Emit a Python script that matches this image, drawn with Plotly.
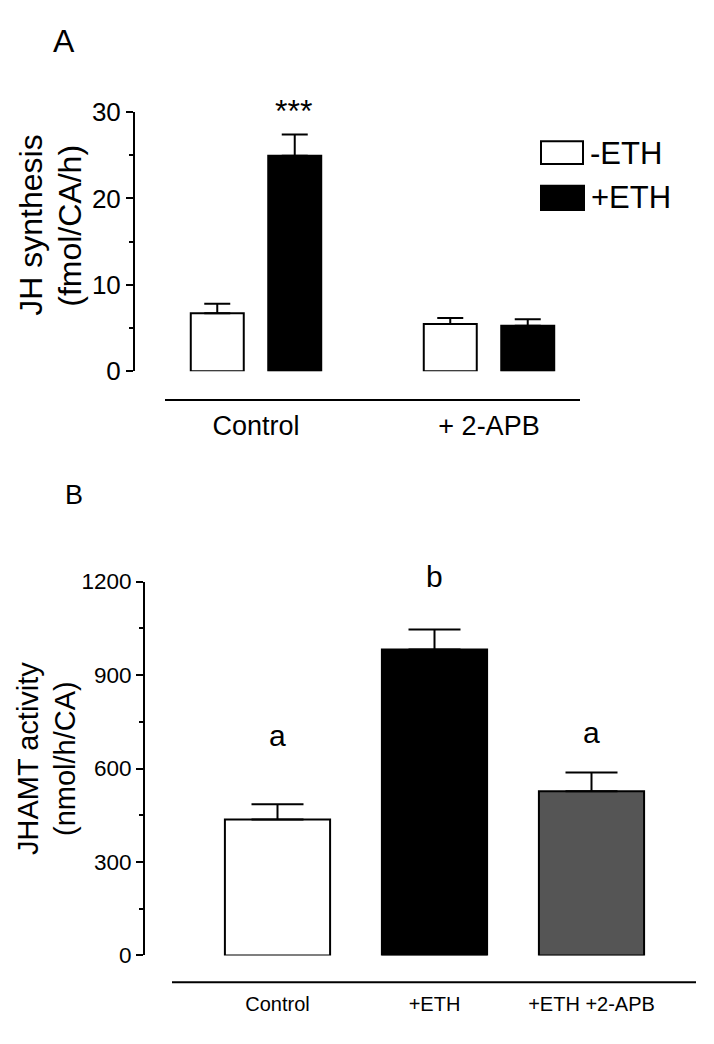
import plotly.graph_objects as go

# ---------------- data ----------------
groups_a = ["Control", "+ 2-APB"]
minus_eth = [6.7, 5.45]
minus_eth_err = [1.1, 0.7]
plus_eth = [24.95, 5.25]
plus_eth_err = [2.45, 0.75]

cats_b = ["Control", "+ETH", "+ETH +2-APB"]
jhamt = [436, 982, 527]
jhamt_err = [49, 64, 60]
letters_b = ["a", "b", "a"]
colors_b = ["white", "black", "#555555"]

yticks_a = [0, 10, 20, 30]
yticks_b = [0, 300, 600, 900, 1200]

W, H = 714, 1044
FONT = "Liberation Sans, Arial, Helvetica, sans-serif"


def px(x):
    return x / W


def py(y):
    return 1 - y / H


fig = go.Figure()

fig.add_trace(go.Bar(
    x=groups_a, y=minus_eth, name="-ETH",
    marker=dict(color="white", line=dict(color="black", width=2)),
    error_y=dict(type="data", array=minus_eth_err, arrayminus=[0] * len(minus_eth),
                 symmetric=False, color="black", thickness=2, width=13),
    xaxis="x", yaxis="y", showlegend=False,
))
fig.add_trace(go.Bar(
    x=groups_a, y=plus_eth, name="+ETH",
    marker=dict(color="black", line=dict(color="black", width=2)),
    error_y=dict(type="data", array=plus_eth_err, arrayminus=[0] * len(plus_eth),
                 symmetric=False, color="black", thickness=2, width=13),
    xaxis="x", yaxis="y", showlegend=False,
))
fig.add_trace(go.Bar(
    x=cats_b, y=jhamt, width=0.67,
    marker=dict(color=colors_b, line=dict(color="black", width=2)),
    error_y=dict(type="data", array=jhamt_err, arrayminus=[0] * len(jhamt),
                 symmetric=False, color="black", thickness=2, width=26),
    xaxis="x2", yaxis="y2", showlegend=False,
))

# axis geometry (pixels)
a_left, a_right, a_top, a_bot = 135, 600, 100, 366.7
a_c0, a_step = 256, 233
b_left, b_right, b_top, b_bot = 145, 700, 583.3, 968.3
b_c0, b_step = 277.5, 157

axis_common = dict(showgrid=False, zeroline=False)

fig.update_layout(
    width=W, height=H,
    margin=dict(l=0, r=0, t=0, b=0),
    paper_bgcolor="white", plot_bgcolor="white",
    barmode="group", bargap=0.335, bargroupgap=0.316,
    font=dict(family=FONT, color="black"),
    xaxis=dict(
        domain=[px(a_left), px(a_right)], anchor="y", type="category",
        range=[(a_left - a_c0) / a_step, (a_right - a_c0) / a_step],
        showline=False, ticks="", tickfont=dict(size=27),
        ticklabelstandoff=36, **axis_common,
    ),
    yaxis=dict(
        domain=[py(a_bot), py(a_top)], anchor="x", range=[0, 30],
        tickvals=yticks_a, ticks="outside", ticklen=7, tickwidth=2,
        tickcolor="black", showline=True, linecolor="black", linewidth=2,
        tickfont=dict(size=26),
        minor=dict(dtick=5, ticks="outside", ticklen=4, tickwidth=2, tickcolor="black"),
        **axis_common,
    ),
    xaxis2=dict(
        domain=[px(b_left), px(b_right)], anchor="y2", type="category",
        range=[(b_left - b_c0) / b_step, (b_right - b_c0) / b_step],
        showline=False, ticks="", tickfont=dict(size=20),
        ticklabelstandoff=35, **axis_common,
    ),
    yaxis2=dict(
        domain=[py(b_bot), py(b_top)], anchor="x2", range=[0, 1200],
        tickvals=yticks_b, ticks="outside", ticklen=7, tickwidth=2,
        tickcolor="black", showline=True, linecolor="black", linewidth=2,
        tickfont=dict(size=22.5),
        minor=dict(dtick=150, ticks="outside", ticklen=4, tickwidth=2, tickcolor="black"),
        **axis_common,
    ),
)

shapes = [
    # group separator lines
    dict(type="line", xref="paper", yref="paper", x0=px(165), x1=px(580),
         y0=py(396.5), y1=py(396.5), line=dict(color="black", width=2)),
    dict(type="line", xref="paper", yref="paper", x0=px(172), x1=px(696),
         y0=py(995.8), y1=py(995.8), line=dict(color="black", width=2)),
    # legend keys
    dict(type="rect", xref="paper", yref="paper", x0=px(541), x1=px(583),
         y0=py(153.3), y1=py(130), fillcolor="white", line=dict(color="black", width=2)),
    dict(type="rect", xref="paper", yref="paper", x0=px(541), x1=px(584),
         y0=py(200.7), y1=py(175.7), fillcolor="black", line=dict(color="black", width=2)),
]
fig.update_layout(shapes=shapes)

ann = [
    dict(text="A", x=px(64), y=py(26.5), font=dict(size=32)),
    dict(text="B", x=px(74), y=py(494), font=dict(size=27)),
    dict(text="JH synthesis", x=px(31), y=py(217), textangle=-90, font=dict(size=32)),
    dict(text="(fmol/CA/h)", x=px(70), y=py(217), textangle=-90, font=dict(size=32)),
    dict(text="JHAMT activity", x=px(28), y=py(766), textangle=-90, font=dict(size=29)),
    dict(text="(nmol/h/CA)", x=px(65), y=py(766), textangle=-90, font=dict(size=29)),
    dict(text="***", x=px(293.3), y=py(99), font=dict(size=32)),
    dict(text="-ETH", x=px(588), y=py(142.7), xanchor="left", font=dict(size=31)),
    dict(text="+ETH", x=px(589), y=py(188.3), xanchor="left", font=dict(size=31)),
]
annotations = []
for a in ann:
    d = dict(xref="paper", yref="paper", showarrow=False, xanchor="center",
             yanchor="middle")
    d.update(a)
    annotations.append(d)

# significance letters (vertical pixel positions)
letter_pix = [742, 578, 739]
for c, t, yp in zip(cats_b, letters_b, letter_pix):
    annotations.append(dict(text=t, x=c, y=py(yp), xref="x2", yref="paper", showarrow=False,
                            xanchor="center", yanchor="middle", font=dict(size=30)))

fig.update_layout(annotations=annotations)

fig.write_html("out.html", config={"displayModeBar": False},
               post_script="document.body.style.margin='0';")
